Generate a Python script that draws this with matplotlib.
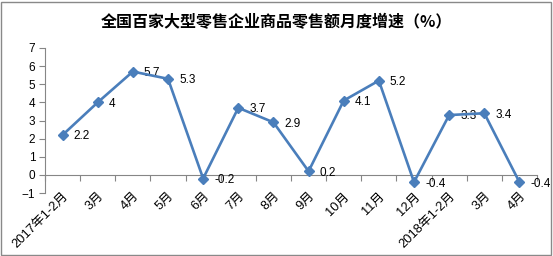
import matplotlib
matplotlib.use("Agg")
import matplotlib.pyplot as plt
from matplotlib.patches import Rectangle

plt.rcParams["font.family"] = ["Liberation Sans", "Noto Sans CJK SC"]

months = ["2017年1-2月", "3月", "4月", "5月", "6月", "7月", "8月", "9月",
          "10月", "11月", "12月", "2018年1-2月", "3月", "4月"]
growth = [2.2, 4, 5.7, 5.3, -0.2, 3.7, 2.9, 0.2, 4.1, 5.2, -0.4, 3.3, 3.4, -0.4]
title = "全国百家大型零售企业商品零售额月度增速（%）"

line_color = "#4A7EBB"
axis_color = "#868686"

fig = plt.figure(figsize=(5.53, 2.56), dpi=100)
ax = fig.add_axes([45 / 553, 63 / 256, 492 / 553, 145 / 256])

x = list(range(len(months)))
ax.plot(x, growth, color=line_color, lw=1.9, marker="D", ms=5,
        mfc=line_color, mec=line_color, zorder=5, clip_on=False)

for xi, v in zip(x, growth):
    ax.annotate(f"{v:g}", (xi, v), xytext=(8, -1), textcoords="offset points",
                ha="left", va="center", fontsize=8.5, color="black")

ax.set_xlim(-0.5, len(months) - 0.5)
ax.set_ylim(-1, 7)
ax.set_yticks(range(-1, 8))

for side in ("top", "right"):
    ax.spines[side].set_visible(False)
ax.spines["left"].set_color(axis_color)
ax.spines["bottom"].set_position(("data", 0))
ax.spines["bottom"].set_color(axis_color)

ax.set_xticks([i - 0.5 for i in range(len(months) + 1)])
ax.set_xticklabels([])
ax.set_xticks(x, minor=True)
ax.set_xticklabels(months, minor=True, rotation=45, ha="right",
                   rotation_mode="anchor", fontsize=9.3)
ax.tick_params(axis="x", which="major", direction="out", length=4,
               color=axis_color)
ax.tick_params(axis="x", which="minor", length=0, pad=11)
ax.tick_params(axis="y", direction="out", length=4, color=axis_color,
               labelsize=8.5, pad=3)

fig.text(0.5, 0.915, title, ha="center", va="center", fontsize=11.5,
         fontweight="bold", family=["Noto Sans CJK SC"])

fig.patches.append(Rectangle((0.002, 0.004), 0.995, 0.99, transform=fig.transFigure,
                             fill=False, ec="#898989", lw=1))

fig.savefig("out.png", dpi=100)
